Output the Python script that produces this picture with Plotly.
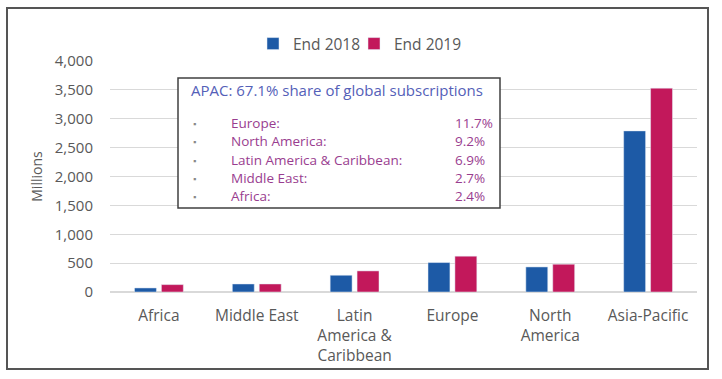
import plotly.graph_objects as go

categories = ["Africa", "Middle East", "Latin<br>America &<br>Caribbean", "Europe", "North<br>America", "Asia-Pacific"]
end_2018 = [70, 139, 290, 510, 434, 2790]
end_2019 = [128, 139, 365, 620, 481, 3530]
y_ticks = [0, 500, 1000, 1500, 2000, 2500, 3000, 3500, 4000]

box_title = "APAC: 67.1% share of global subscriptions"
share_regions = ["Europe:", "North America:", "Latin America & Caribbean:", "Middle East:", "Africa:"]
share_values = ["11.7%", "9.2%", "6.9%", "2.7%", "2.4%"]

W, H = 722, 379
L, R, T, B = 110, 25, 61, 87
PW, PH = W - L - R, H - T - B

def px(x):
    return (x - L) / PW

def py(y):
    return (H - B - y) / PH

BLUE = "#1D5AA6"
PINK = "#C2185B"
FONT = "Open Sans"

fig = go.Figure()
fig.add_trace(go.Bar(x=categories, y=end_2018, name="End 2018", marker_color=BLUE, legend="legend"))
fig.add_trace(go.Bar(x=categories, y=end_2019, name="End 2019", marker_color=PINK, legend="legend2"))

shapes = [
    dict(type="rect", xref="paper", yref="paper", x0=px(178), x1=px(500), y0=py(78), y1=py(208),
         line=dict(color="#404040", width=1.5), fillcolor="white", layer="above"),
    dict(type="rect", xref="paper", yref="paper", x0=px(7), x1=px(708), y0=py(8), y1=py(369),
         line=dict(color="#555555", width=2), fillcolor="rgba(0,0,0,0)", layer="above"),
]

annotations = [
    dict(text=box_title, xref="paper", yref="paper", x=px(189), y=py(90), xanchor="left", yanchor="middle",
         showarrow=False, font=dict(family=FONT, size=15, color="#5460B8")),
]
row_y = [123, 141, 160, 178, 196]
for name, val, yy in zip(share_regions, share_values, row_y):
    annotations.append(dict(text="▪", xref="paper", yref="paper", x=px(191), y=py(yy), xanchor="left",
                            yanchor="middle", showarrow=False, font=dict(family=FONT, size=9, color="#888888")))
    annotations.append(dict(text=name, xref="paper", yref="paper", x=px(229), y=py(yy), xanchor="left",
                            yanchor="middle", showarrow=False, font=dict(family=FONT, size=13.5, color="#993D8F")))
    annotations.append(dict(text=val, xref="paper", yref="paper", x=px(453), y=py(yy), xanchor="left",
                            yanchor="middle", showarrow=False, font=dict(family=FONT, size=13.5, color="#993D8F")))

legend_common = dict(orientation="h", xanchor="left", y=py(44), yanchor="middle",
                     font=dict(size=15.5, color="#595959"), itemwidth=30, bgcolor="rgba(0,0,0,0)")

fig.update_layout(
    width=W, height=H,
    margin=dict(l=L, r=R, t=T, b=B, autoexpand=False),
    paper_bgcolor="white", plot_bgcolor="white",
    font=dict(family=FONT, size=13, color="#595959"),
    barmode="group", bargap=0.45, bargroupgap=0.185,
    showlegend=True,
    legend=dict(x=px(253), **legend_common),
    legend2=dict(x=px(354), **legend_common),
    shapes=shapes,
    annotations=annotations,
    xaxis=dict(showgrid=False, showline=False, ticks="", tickfont=dict(size=15.5, color="#595959"),
               tickangle=0, ticklabelstandoff=12),
    yaxis=dict(range=[0, 4000], tickvals=y_ticks, tickformat=",", showgrid=True, gridcolor="#D9D9D9",
               gridwidth=1, zeroline=True, zerolinecolor="#D9D9D9", showline=False,
               ticklabelstandoff=16, tickfont=dict(size=15, color="#595959"),
               title=dict(text="Millions", font=dict(size=14, color="#595959"), standoff=8)),
)

fig.write_html("out.html", config={"displayModeBar": False},
               post_script="document.body.style.margin='0';document.body.style.padding='0';")
